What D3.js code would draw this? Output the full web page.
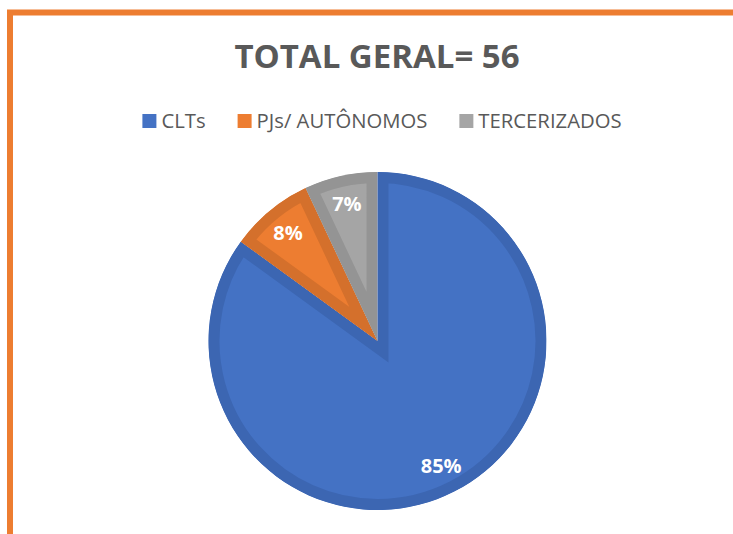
<!DOCTYPE html>
<html lang="pt">
<head>
  <meta charset="UTF-8">
  <title>Total geral</title>
  <script src="https://d3js.org/d3.v7.min.js"></script>
  <style>
    body { margin: 0; background: #fff; }
    svg { display: block; }
    .title { font-family: "Open Sans", sans-serif; font-weight: 700; fill: #595959; }
    .legend text { font-family: "Open Sans", sans-serif; fill: #595959; }
    .label { font-family: "Open Sans", sans-serif; font-weight: 700; fill: #fff; }
  </style>
</head>
<body>
<svg id="chart" width="733" height="534"></svg>
<script>
  // data
  const categories = ["CLTs", "PJs/ AUTÔNOMOS", "TERCERIZADOS"];
  const percents = [85, 8, 7];
  const total = 56;
  const fills = ["#4472C4", "#ED7D31", "#A5A5A5"];
  const edges = ["#3C66B2", "#D4702C", "#949494"];

  const svg = d3.select("#chart");

  // orange frame, only top and left edges show
  svg.append("rect")
    .attr("x", 10).attr("y", 12.5)
    .attr("width", 800).attr("height", 600)
    .attr("fill", "none")
    .attr("stroke", "#ED7D31")
    .attr("stroke-width", 6);

  // title
  svg.append("text")
    .attr("class", "title")
    .attr("x", 377).attr("y", 68)
    .attr("text-anchor", "middle")
    .style("font-size", "33px")
    .text("TOTAL GERAL= " + total);

  // legend
  const legend = svg.append("g").attr("class", "legend");
  let lx = 0;
  const items = legend.selectAll("g").data(categories).join("g");
  items.each(function(d, i) {
    const g = d3.select(this);
    g.append("rect").attr("x", 0).attr("y", -14).attr("width", 14).attr("height", 14)
      .attr("fill", fills[i]);
    const t = g.append("text").attr("x", 19).attr("y", 0)
      .style("font-size", "20.3px").text(d);
    const w = t.node().getComputedTextLength();
    g.attr("transform", "translate(" + lx + ",0)");
    lx += 19 + w + 32;
  });
  lx -= 32;
  legend.attr("transform", "translate(" + (382 - lx / 2) + ",128)");

  // pie
  const cx = 377.5, cy = 341, r = 169;
  const pie = d3.pie().sort(null).value(d => d);
  const arcs = pie(percents);
  const arc = d3.arc().innerRadius(0).outerRadius(r);
  const labelArc = d3.arc().innerRadius(r * 0.83).outerRadius(r * 0.83);

  const g = svg.append("g").attr("transform", "translate(" + cx + "," + cy + ")");
  const defs = svg.append("defs");
  defs.selectAll("clipPath").data(arcs).join("clipPath")
    .attr("id", (d, i) => "clip" + i)
    .append("path").attr("d", arc);

  g.selectAll("path.slice").data(arcs).join("path")
    .attr("class", "slice")
    .attr("d", arc)
    .attr("fill", (d, i) => fills[i])
    .attr("stroke", (d, i) => edges[i])
    .attr("stroke-width", 22)
    .attr("stroke-linejoin", "miter")
    .attr("clip-path", (d, i) => "url(#clip" + i + ")");

  g.selectAll("text.label").data(arcs).join("text")
    .attr("class", "label")
    .attr("transform", d => "translate(" + labelArc.centroid(d) + ")")
    .attr("text-anchor", "middle")
    .attr("dy", "0.36em")
    .style("font-size", "20px")
    .text(d => d.data + "%");
</script>
</body>
</html>
